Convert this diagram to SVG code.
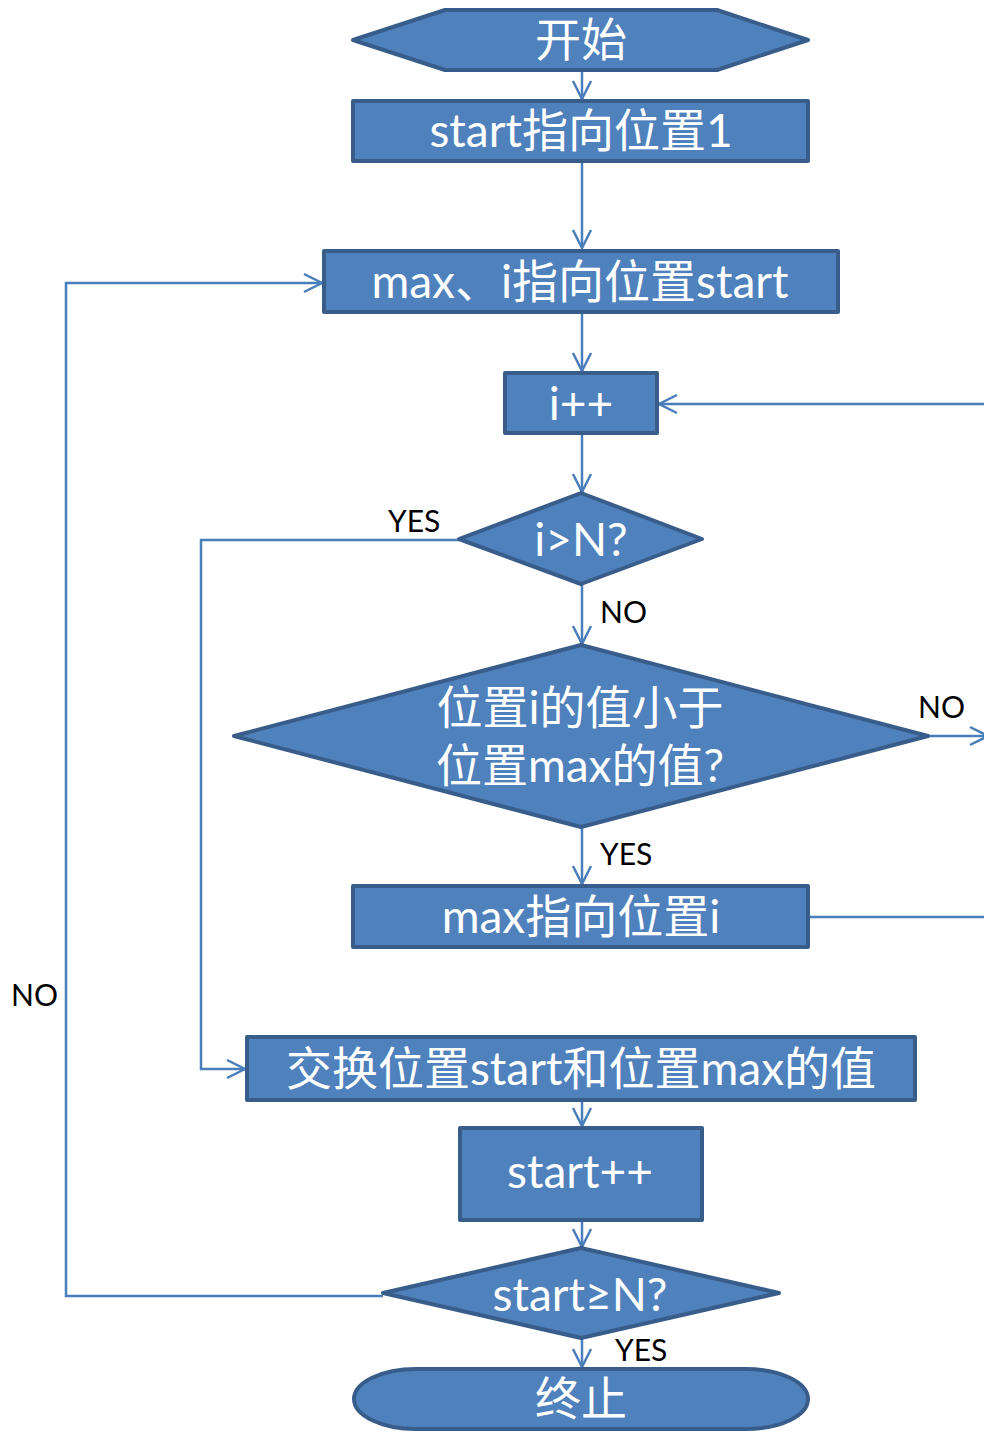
<svg xmlns="http://www.w3.org/2000/svg" width="984" height="1432" viewBox="0 0 984 1432">
<style>
.n{fill:#4F81BD;stroke:#385D8A;stroke-width:4;stroke-linejoin:round}
.t{fill:#FFFFFF;font-family:Lato,"Noto Sans CJK SC",sans-serif;font-size:46px;text-anchor:middle}
.c{fill:none;stroke:#4A7EBB;stroke-width:2.5}
.l{fill:#000000;font-family:Lato,"Noto Sans",sans-serif;font-size:30px}
</style>
<defs>
<marker id="a" markerUnits="userSpaceOnUse" markerWidth="24" markerHeight="24" viewBox="-20 -12 24 24" refX="0" refY="0" orient="auto">
<path d="M-18,-9 L0,0 L-18,9" fill="none" stroke="#4A7EBB" stroke-width="2.5"/>
</marker>
</defs>
<g id="connectors">
<path class="c" d="M582,70 L582,99" marker-end="url(#a)"/>
<path class="c" d="M582,161 L582,248" marker-end="url(#a)"/>
<path class="c" d="M582,313 L582,371" marker-end="url(#a)"/>
<path class="c" d="M582,433 L582,492" marker-end="url(#a)"/>
<path class="c" d="M582,584 L582,644" marker-end="url(#a)"/>
<path class="c" d="M459,540 L201,540 L201,1069 L245,1069" marker-end="url(#a)"/>
<path class="c" d="M928,736 L988,736" marker-end="url(#a)"/>
<path class="c" d="M582,827 L582,884" marker-end="url(#a)"/>
<path class="c" d="M808,917 L990,917"/>
<path class="c" d="M990,404 L659,404" marker-end="url(#a)"/>
<path class="c" d="M582,1100 L582,1126" marker-end="url(#a)"/>
<path class="c" d="M582,1220 L582,1247" marker-end="url(#a)"/>
<path class="c" d="M383,1296 L66,1296 L66,283 L322,283" marker-end="url(#a)"/>
<path class="c" d="M582,1339 L582,1367" marker-end="url(#a)"/>
<text class="l" x="388" y="532">YES</text>
<text class="l" x="600" y="623">NO</text>
<text class="l" x="918" y="718">NO</text>
<text class="l" x="600" y="865">YES</text>
<text class="l" x="11" y="1006">NO</text>
<text class="l" x="615" y="1361">YES</text>
</g>
<g id="start">
<polygon class="n" points="353,40 445,10 717,10 808,40 717,70 445,70"/>
<text class="t" x="581" y="56">开始</text>
</g>
<g id="init">
<rect class="n" x="353" y="101" width="455" height="60"/>
<text class="t" x="581" y="147">start指向位置1</text>
</g>
<g id="setmax">
<rect class="n" x="324" y="251" width="514" height="61"/>
<text class="t" x="580" y="298">max、i指向位置start</text>
</g>
<g id="inc_i">
<rect class="n" x="505" y="373" width="152" height="60"/>
<text class="t" x="581" y="420">i++</text>
</g>
<g id="cond_i">
<polygon class="n" points="459,539 581,493 702,539 581,584"/>
<text class="t" x="581" y="556">i&gt;N?</text>
</g>
<g id="cond_cmp">
<polygon class="n" points="234,736 581,645 928,736 581,827"/>
<text class="t" x="580" y="724">位置i的值小于</text>
<text class="t" x="580" y="782">位置max的值?</text>
</g>
<g id="setmaxi">
<rect class="n" x="353" y="886" width="455" height="61"/>
<text class="t" x="581" y="933">max指向位置i</text>
</g>
<g id="swap">
<rect class="n" x="247" y="1037" width="668" height="63"/>
<text class="t" x="581" y="1085">交换位置start和位置max的值</text>
</g>
<g id="inc_start">
<rect class="n" x="460" y="1128" width="242" height="92"/>
<text class="t" x="580" y="1188">start++</text>
</g>
<g id="cond_start">
<polygon class="n" points="383,1293 581,1248 779,1293 581,1338"/>
<text class="t" x="580" y="1311">start≥N?</text>
</g>
<g id="end">
<rect class="n" x="354" y="1369" width="454" height="60" rx="62" ry="30"/>
<text class="t" x="581" y="1415">终止</text>
</g>
</svg>
